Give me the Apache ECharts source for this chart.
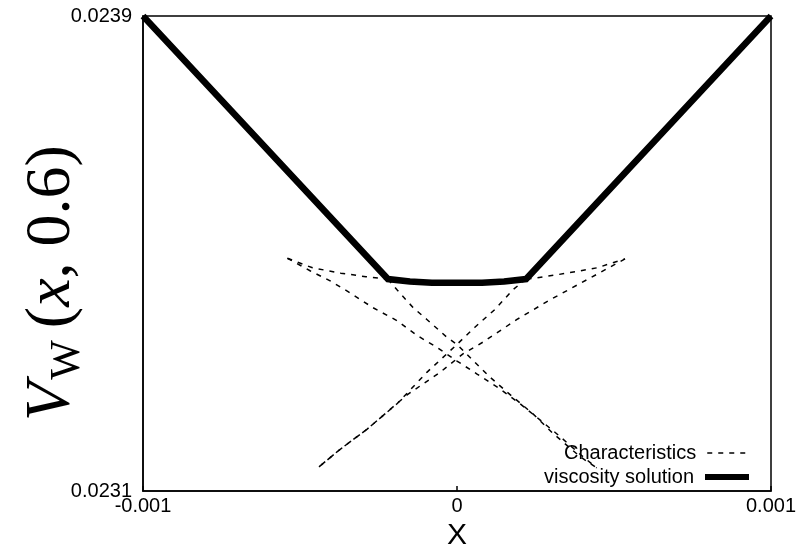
<!DOCTYPE html>
<html>
<head>
<meta charset="utf-8">
<script src="https://cdn.jsdelivr.net/npm/echarts@6/dist/echarts.min.js"></script>
<style>
  html, body { margin: 0; padding: 0; background: #fff; }
  #chart { width: 812px; height: 556px; }
</style>
</head>
<body>
<div id="chart"></div>
<script>
// Axis ranges and tick labels
const xTicks = [-0.001, 0, 0.001];
const yTickLabels = ['0.0231', '0.0239'];
const yMin = 0.0231, yMax = 0.0239;

// Viscosity solution V_W(x, 0.6)
const solX = [-0.001, -0.00022, -0.00015, -0.00008, 0, 0.00008, 0.00015, 0.00022, 0.001];
const solY = [0.0239, 0.023457, 0.023453, 0.023451, 0.023451, 0.023451, 0.023453, 0.023457, 0.0239];

// Characteristics: the shallow middle one
const midX = [-0.00054, -0.00046, -0.00037, -0.00029, -0.00022, -0.00011, 0, 0.00011, 0.00022, 0.000255, 0.00035, 0.000446, 0.000535];
const midY = [0.023492, 0.023476, 0.023467, 0.023461, 0.023457, 0.023452, 0.023451, 0.023452, 0.023457, 0.023459, 0.023467, 0.023476, 0.023491];

// Characteristic starting at the left end of the middle one, running down to the right
const leftX = [-0.00054, -0.000468, -0.000404, -0.000341, -0.000268, -0.000191, -0.000127, -0.000064, 0, 0.000064, 0.000137, 0.000201, 0.000264, 0.000328, 0.000392, 0.000445];
const leftY = [0.023492, 0.023471, 0.023454, 0.023434, 0.023409, 0.023387, 0.023362, 0.023342, 0.023319, 0.023297, 0.023272, 0.023247, 0.02322, 0.023192, 0.023162, 0.023139];

// Characteristic starting at the right end of the middle one, running down to the left
const rightX = [0.000535, 0.000414, 0.000296, 0.000191, 0.000083, 0.000019, -0.000054, -0.000159, -0.000287, -0.000373, -0.000446];
const rightY = [0.023491, 0.023456, 0.023422, 0.023389, 0.023351, 0.023331, 0.0233, 0.023262, 0.023204, 0.02317, 0.023138];

// Continuation of the left solution branch past its kink
const kinkLX = [-0.00022, -0.000191, -0.00014, -0.000096, -0.000032, 0, 0.000051, 0.000105, 0.000159, 0.000242, 0.000306, 0.000392, 0.000445];
const kinkLY = [0.023457, 0.023439, 0.023409, 0.023389, 0.023359, 0.023347, 0.02332, 0.023292, 0.023267, 0.02323, 0.023197, 0.023158, 0.023139];

// Continuation of the right solution branch past its kink
const kinkRX = [0.00022, 0.000178, 0.000121, 0.000057, 0, -0.000096, -0.000191, -0.000287, -0.000373, -0.000446];
const kinkRY = [0.023457, 0.023439, 0.023406, 0.023376, 0.023347, 0.0233, 0.023247, 0.023204, 0.02317, 0.023138];

const zip = (xs, ys) => xs.map((x, i) => [x, ys[i]]);

const sans = 'Liberation Sans';
const dashed = { color: '#000', width: 1.5, type: [5, 6] };

function charSeries(xs, ys) {
  return {
    name: 'Characteristics',
    type: 'line',
    data: zip(xs, ys),
    symbol: 'none',
    lineStyle: dashed,
    itemStyle: { color: '#000' },
    z: 2,
    silent: true
  };
}

const legendBase = {
  right: 60, align: 'right', orient: 'vertical',
  padding: 0, itemWidth: 44, itemHeight: 14, selectedMode: false,
  itemStyle: { color: 'rgba(0,0,0,0)', borderWidth: 0, opacity: 0 },
  textStyle: { fontFamily: sans, fontSize: 20, color: '#000', padding: [0, 6, 0, 0] }
};

const chart = echarts.init(document.getElementById('chart'), null, { renderer: 'canvas' });

chart.setOption({
  animation: false,
  backgroundColor: '#fff',
  grid: {
    left: 143, right: 41, top: 16, bottom: 61,
    show: true, borderColor: '#000', borderWidth: 1.5, backgroundColor: 'transparent'
  },
  xAxis: {
    type: 'value',
    min: xTicks[0], max: xTicks[xTicks.length - 1], interval: 0.001,
    name: 'X', nameLocation: 'middle', nameGap: 22,
    nameTextStyle: { fontFamily: sans, fontSize: 30, color: '#000' },
    axisLine: { show: true, onZero: false, lineStyle: { color: '#000', width: 1.5 } },
    axisTick: { show: true, inside: true, length: 5, lineStyle: { color: '#000', width: 1.5 } },
    splitLine: { show: false },
    axisLabel: {
      margin: 5, fontFamily: sans, fontSize: 20, color: '#000',
      showMinLabel: true, showMaxLabel: true,
      formatter: v => (Math.abs(v) < 1e-12 ? '0' : (v < 0 ? '-' : '') + Math.abs(v).toFixed(3))
    }
  },
  yAxis: {
    type: 'value',
    min: yMin, max: yMax, interval: 0.0008,
    axisLine: { show: true, onZero: false, lineStyle: { color: '#000', width: 1.5 } },
    axisTick: { show: false },
    splitLine: { show: false },
    axisLabel: {
      margin: 11, fontFamily: sans, fontSize: 20, color: '#000',
      showMinLabel: true, showMaxLabel: true,
      formatter: v => (Math.abs(v - yMin) < 1e-7 ? yTickLabels[0] : yTickLabels[1])
    }
  },
  legend: [
    Object.assign({ data: ['Characteristics'], top: 443, lineStyle: { width: 1.5 } }, legendBase),
    Object.assign({ data: ['viscosity solution'], top: 467, lineStyle: { width: 6 } }, legendBase)
  ],
  graphic: [
    {
      type: 'text',
      x: 52, y: 283,
      rotation: Math.PI / 2,
      style: {
        text: '{v|V}{w|W}{p|(}{v|x}{p|, 0.6)}',
        align: 'center', verticalAlign: 'middle',
        fill: '#000',
        rich: {
          v: { fontFamily: 'Liberation Serif', fontStyle: 'italic', fontSize: 64, lineHeight: 74, verticalAlign: 'middle' },
          p: { fontFamily: 'Liberation Serif', fontSize: 64, lineHeight: 74, verticalAlign: 'middle' },
          w: { fontFamily: 'Liberation Serif', fontSize: 42, lineHeight: 74, verticalAlign: 'bottom', padding: [14, 12, 0, 2] }
        }
      }
    }
  ],
  series: [
    charSeries(midX, midY),
    charSeries(leftX, leftY),
    charSeries(rightX, rightY),
    charSeries(kinkLX, kinkLY),
    charSeries(kinkRX, kinkRY),
    {
      name: 'viscosity solution',
      type: 'line',
      data: zip(solX, solY),
      symbol: 'none',
      lineStyle: { color: '#000', width: 6.5, cap: 'butt', join: 'miter' },
      itemStyle: { color: '#000' },
      z: 5,
      silent: true
    }
  ]
});
</script>
</body>
</html>
